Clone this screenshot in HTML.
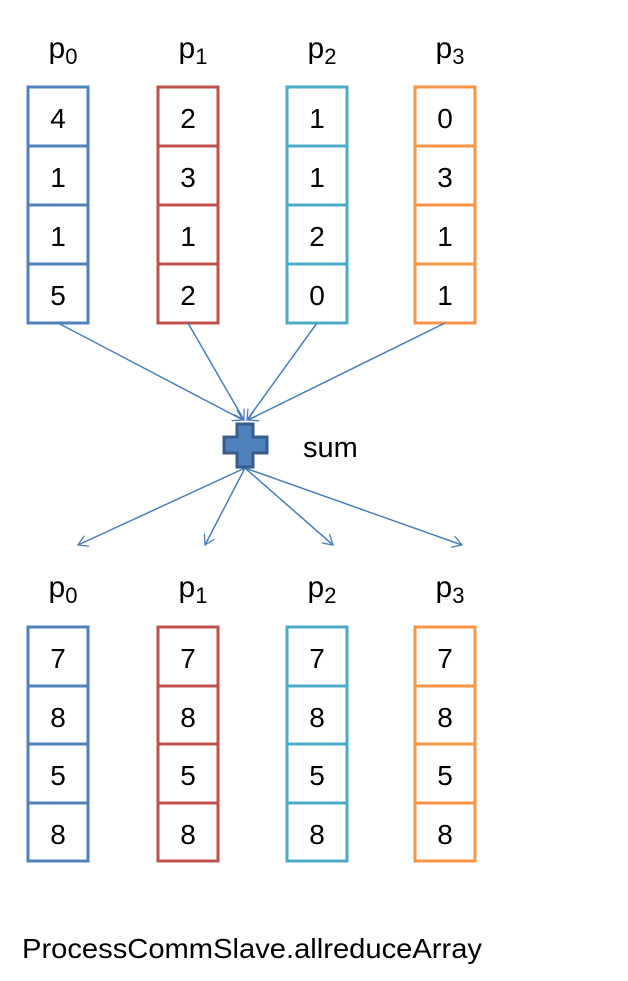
<!DOCTYPE html>
<html><head><style>
body{margin:0;background:#fff;}
svg text{font-family:"Liberation Sans",sans-serif;fill:#000;}
</style></head><body>
<svg width="628" height="976" xmlns="http://www.w3.org/2000/svg">
<defs>
<marker id="a" markerWidth="12" markerHeight="12" refX="10" refY="6" orient="auto" markerUnits="userSpaceOnUse">
<path d="M0,0 L10,6 L0,12" fill="none" stroke="#4a7ebb" stroke-width="1.3"/>
</marker>
</defs>
<g font-size="30" text-anchor="middle">
<text x="63" y="58">p<tspan font-size="22" dy="6">0</tspan></text>
<text x="193" y="58">p<tspan font-size="22" dy="6">1</tspan></text>
<text x="322" y="58">p<tspan font-size="22" dy="6">2</tspan></text>
<text x="450" y="58">p<tspan font-size="22" dy="6">3</tspan></text>
<text x="63" y="597">p<tspan font-size="22" dy="6">0</tspan></text>
<text x="193" y="597">p<tspan font-size="22" dy="6">1</tspan></text>
<text x="322" y="597">p<tspan font-size="22" dy="6">2</tspan></text>
<text x="450" y="597">p<tspan font-size="22" dy="6">3</tspan></text>
</g>
<g fill="none" stroke-width="3">
<g stroke="#4f81bd"><rect x="28" y="87" width="60" height="236"/><path d="M28,146H88M28,205H88M28,264H88"/>
<rect x="28" y="627" width="60" height="234"/><path d="M28,686H88M28,744H88M28,803H88"/></g>
<g stroke="#c0504d"><rect x="158" y="87" width="60" height="236"/><path d="M158,146H218M158,205H218M158,264H218"/>
<rect x="158" y="627" width="60" height="234"/><path d="M158,686H218M158,744H218M158,803H218"/></g>
<g stroke="#4bacc6"><rect x="287" y="87" width="60" height="236"/><path d="M287,146H347M287,205H347M287,264H347"/>
<rect x="287" y="627" width="60" height="234"/><path d="M287,686H347M287,744H347M287,803H347"/></g>
<g stroke="#f79646"><rect x="415" y="87" width="60" height="236"/><path d="M415,146H475M415,205H475M415,264H475"/>
<rect x="415" y="627" width="60" height="234"/><path d="M415,686H475M415,744H475M415,803H475"/></g>
</g>
<g font-size="28" text-anchor="middle">
<text x="58" y="128">4</text><text x="58" y="187">1</text><text x="58" y="246">1</text><text x="58" y="305">5</text>
<text x="188" y="128">2</text><text x="188" y="187">3</text><text x="188" y="246">1</text><text x="188" y="305">2</text>
<text x="317" y="128">1</text><text x="317" y="187">1</text><text x="317" y="246">2</text><text x="317" y="305">0</text>
<text x="445" y="128">0</text><text x="445" y="187">3</text><text x="445" y="246">1</text><text x="445" y="305">1</text>
<text x="58" y="668">7</text><text x="58" y="727">8</text><text x="58" y="785">5</text><text x="58" y="844">8</text>
<text x="188" y="668">7</text><text x="188" y="727">8</text><text x="188" y="785">5</text><text x="188" y="844">8</text>
<text x="317" y="668">7</text><text x="317" y="727">8</text><text x="317" y="785">5</text><text x="317" y="844">8</text>
<text x="445" y="668">7</text><text x="445" y="727">8</text><text x="445" y="785">5</text><text x="445" y="844">8</text>
</g>
<g stroke="#4a7ebb" stroke-width="1.5" fill="none" marker-end="url(#a)">
<path d="M58,323L243,420"/><path d="M188,323L244,420"/><path d="M317,323L247,420"/><path d="M445,323L248,420"/>
<path d="M245,468L78,545"/><path d="M245,468L205,545"/><path d="M245,468L333,545"/><path d="M245,468L462,545"/>
</g>
<path d="M237,424H253V437H267V453H253V467H237V453H224V437H237Z" fill="#4f81bd" stroke="#385d8a" stroke-width="3"/>
<text x="303" y="457" font-size="29">sum</text>
<text x="22" y="958" font-size="28" textLength="460" lengthAdjust="spacingAndGlyphs">ProcessCommSlave.allreduceArray</text>
</svg>
</body></html>
